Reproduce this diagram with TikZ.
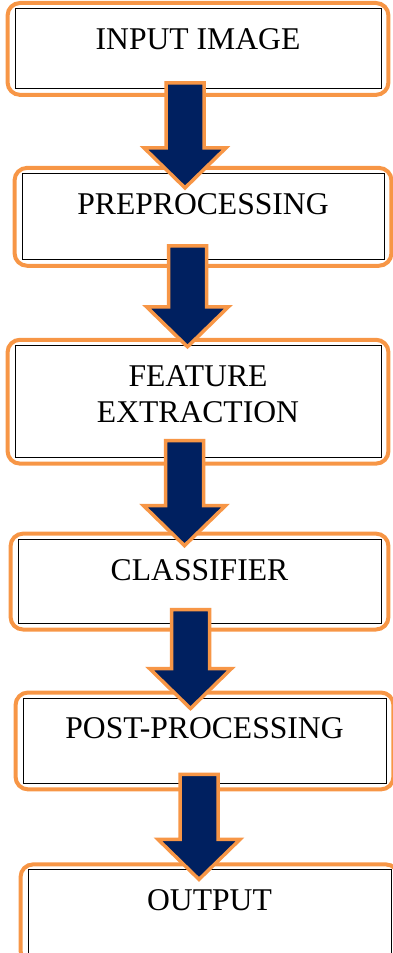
\documentclass[tikz,border=0pt]{standalone}
\usepackage{fontspec}
\setmainfont{Liberation Serif}
\usetikzlibrary{positioning,calc}
\definecolor{navy}{HTML}{002060}
\definecolor{boxorange}{HTML}{F79646}

\begin{document}
\begin{tikzpicture}[
    stage/.style={draw, fill=white, line width=0.5pt, inner xsep=0pt, inner ysep=0pt,
        minimum width=7.26cm, text height=0.82cm, align=center,
        font=\fontsize{18}{20.5}\selectfont},
    rim/.style={draw=boxorange, line width=0.08cm, rounded corners=0.25cm},
    flow/.style={draw=boxorange, fill=navy, line width=0.07cm, line join=miter,
        to path={let \p1=(\tikztostart), \p2=(\tikztotarget) in
            (\x2-0.38cm,\y1) -- (\x2-0.38cm,\y2+0.8cm) -- (\x2-0.82cm,\y2+0.8cm)
            -- (\x2,\y2) -- (\x2+0.82cm,\y2+0.8cm) -- (\x2+0.38cm,\y2+0.8cm)
            -- (\x2+0.38cm,\y1) -- cycle}}
]
    \useasboundingbox (0,0) rectangle (7.86,-19.06);

    \node[stage, anchor=north, minimum width=7.32cm, text depth=0.78cm] (input) at (3.96,-0.16) {INPUT IMAGE};
    \node[stage, below=1.68cm of input, xshift=0.1cm, minimum width=7.24cm, text depth=0.90cm] (prep) {PREPROCESSING};
    \node[stage, below=1.70cm of prep, xshift=-0.1cm, minimum width=7.32cm, text height=1.54cm, text depth=0.70cm] (feat) {FEATURE\\EXTRACTION};
    \node[stage, below=1.62cm of feat, xshift=0.03cm, text depth=0.86cm] (cls) {CLASSIFIER};
    \node[stage, below=1.48cm of cls, xshift=0.1cm, text depth=0.88cm] (post) {POST-PROCESSING};
    \node[stage, below=1.72cm of post, xshift=0.1cm, text depth=0.92cm] (output) {OUTPUT};

    % orange frames
    \foreach \n in {input,prep,feat,cls,post,output}
        \draw[rim] ([shift={(-0.14,-0.12)}]\n.south west) rectangle ([shift={(0.14,0.1)}]\n.north east);

    % block arrows
    \draw[flow] ([yshift=0.12cm]input.south) to ([xshift=-0.36cm,yshift=-0.30cm]prep.north);
    \draw[flow] ([yshift=0.28cm]prep.south) to ([xshift=-0.21cm,yshift=-0.04cm]feat.north);
    \draw[flow] ([yshift=0.34cm]feat.south) to ([xshift=-0.30cm,yshift=-0.14cm]cls.north);
    \draw[flow] ([yshift=0.28cm]cls.south) to ([xshift=-0.28cm,yshift=-0.22cm]post.north);
    \draw[flow] ([yshift=0.18cm]post.south) to ([xshift=-0.21cm,yshift=-0.20cm]output.north);
\end{tikzpicture}
\end{document}
